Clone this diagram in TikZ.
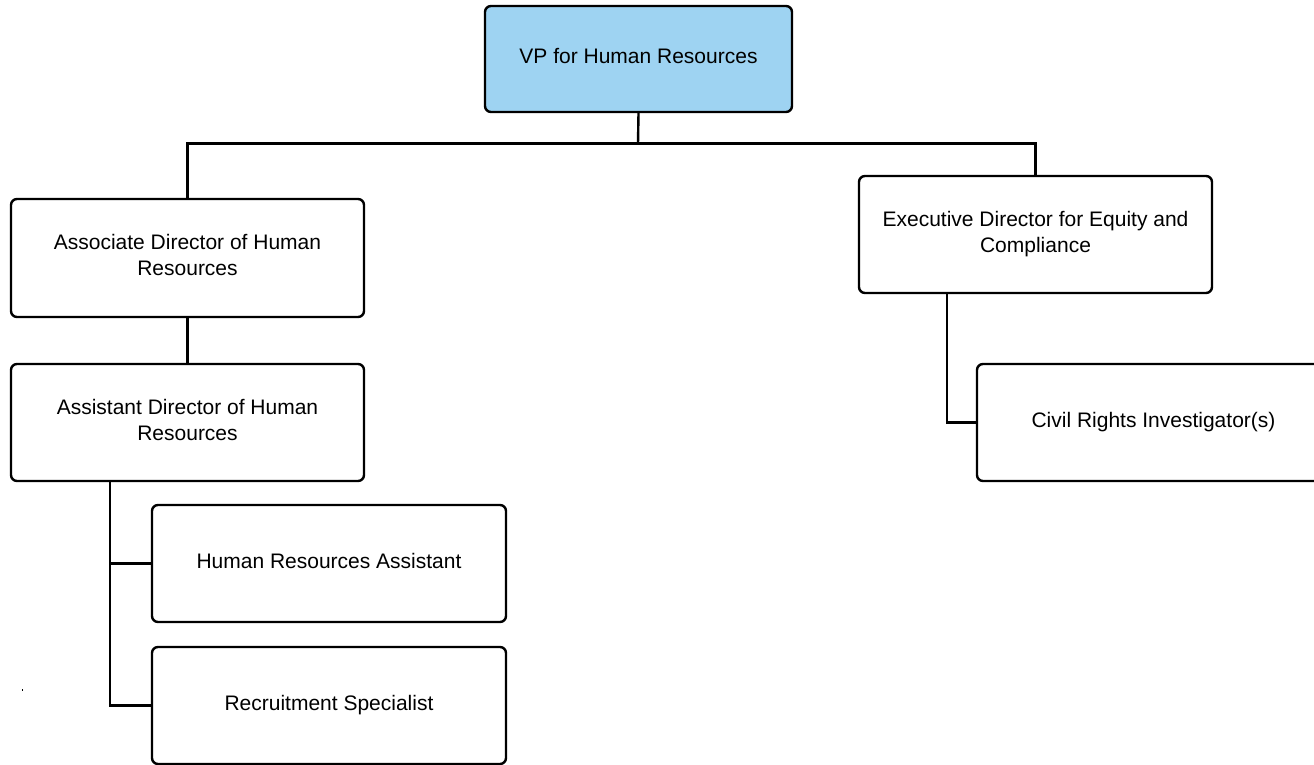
\documentclass[tikz,border=0pt]{standalone}
\usepackage{fontspec}
\setmainfont{Liberation Sans}
\definecolor{vpblue}{RGB}{158,211,242}
\definecolor{lineblack}{RGB}{0,0,0}
\tikzset{
  orgbox/.style={draw=lineblack, line width=2.4pt, rounded corners=6pt, fill=white,
    minimum width=353pt, minimum height=117pt, align=center,
    font=\fontsize{21}{26}\selectfont, inner sep=0pt, text depth=5.5pt},
  link/.style={draw=lineblack, line width=2.4pt}
}
\begin{document}
\begin{tikzpicture}[x=1pt,y=-1pt]
\useasboundingbox (0,0) rectangle (1314,765);
\clip (0,0) rectangle (1314,765);
\node[orgbox, fill=vpblue, minimum width=307pt, minimum height=106pt] (vp) at (638.5,59) {VP for Human Resources};
\node[orgbox, minimum height=118pt] (assoc) at (187.5,258) {Associate Director of Human\\Resources};
\node[orgbox] (asst) at (187.5,422.5) {Assistant Director of Human\\Resources};
\node[orgbox] (exec) at (1035.5,234.5) {Executive Director for Equity and\\Compliance};
\node[orgbox] (civil) at (1153.5,422.5) {Civil Rights Investigator(s)};
\node[orgbox, minimum width=354pt] (hra) at (329,563.5) {Human Resources Assistant};
\node[orgbox, minimum width=354pt] (rec) at (329,705.5) {Recruitment Specialist};
\coordinate (split) at (638,143.5);
\draw[link] (vp.south) -- (split);
\draw[link] (split) -| (assoc.north);
\draw[link] (split) -| (exec.north);
\draw[link] (assoc.south) -- (asst.south |- asst.north);
\coordinate (asstout) at (110,481);
\coordinate (execout) at (947,293);
\draw[link] (asstout) |- (hra.west);
\draw[link] (asstout) |- (rec.west);
\draw[link] (execout) |- (civil.west);
\fill[lineblack] (21.5,689) rectangle (23,691);
\end{tikzpicture}
\end{document}
